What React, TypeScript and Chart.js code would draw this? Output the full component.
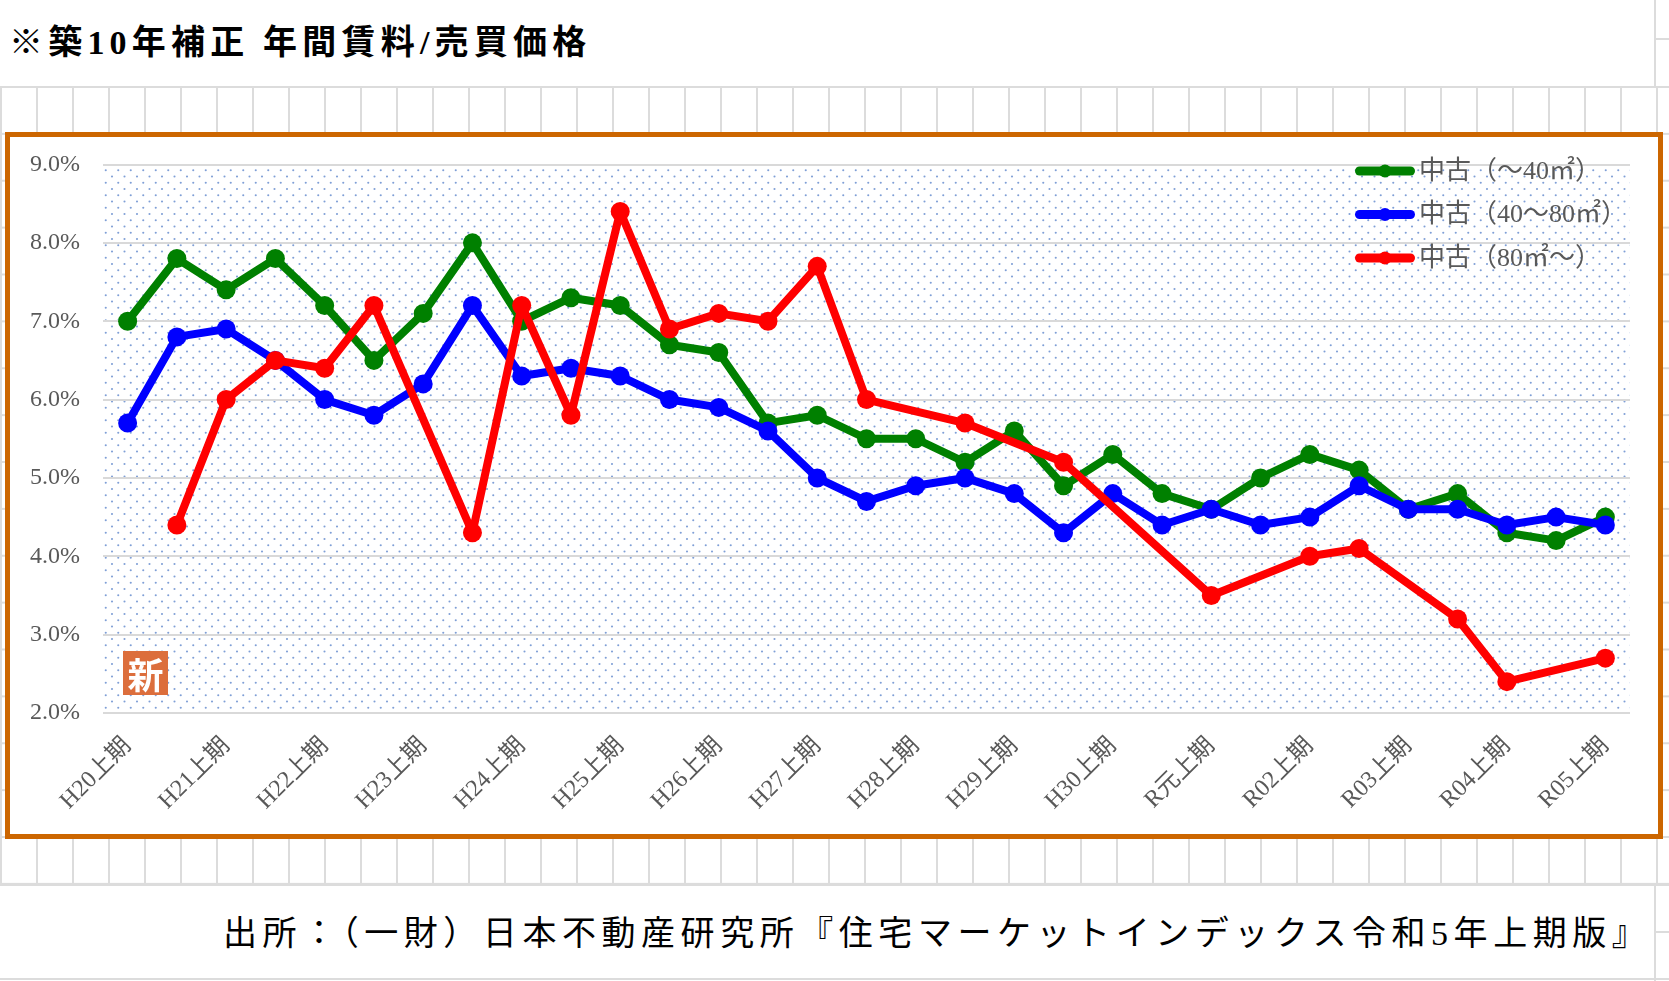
import React, { useEffect, useRef } from "react";
import { Chart, registerables } from "chart.js";

Chart.register(...registerables);

const PERIODS = [
  "H20上期", "H20下期", "H21上期", "H21下期", "H22上期", "H22下期", "H23上期", "H23下期",
  "H24上期", "H24下期", "H25上期", "H25下期", "H26上期", "H26下期", "H27上期", "H27下期",
  "H28上期", "H28下期", "H29上期", "H29下期", "H30上期", "H30下期", "R元上期", "R元下期",
  "R02上期", "R02下期", "R03上期", "R03下期", "R04上期", "R04下期", "R05上期",
];

const SERIES_NAMES = ["中古（～40㎡）", "中古（40～80㎡）", "中古（80㎡～）"];

const SMALL = [7.0, 7.8, 7.4, 7.8, 7.2, 6.5, 7.1, 8.0, 7.0, 7.3, 7.2, 6.7, 6.6, 5.7, 5.8, 5.5,
  5.5, 5.2, 5.6, 4.9, 5.3, 4.8, 4.6, 5.0, 5.3, 5.1, 4.6, 4.8, 4.3, 4.2, 4.5];
const MEDIUM = [5.7, 6.8, 6.9, 6.5, 6.0, 5.8, 6.2, 7.2, 6.3, 6.4, 6.3, 6.0, 5.9, 5.6, 5.0, 4.7,
  4.9, 5.0, 4.8, 4.3, 4.8, 4.4, 4.6, 4.4, 4.5, 4.9, 4.6, 4.6, 4.4, 4.5, 4.4];
const LARGE = [null, 4.4, 6.0, 6.5, 6.4, 7.2, null, 4.3, 7.2, 5.8, 8.4, 6.9, 7.1, 7.0, 7.7, 6.0,
  null, 5.7, null, 5.2, null, null, 3.5, null, 4.0, 4.1, null, 3.2, 2.4, null, 2.7];

const Y_MIN = 2;
const Y_MAX = 9;
const Y_STEP = 1;

const COLORS = ["#008000", "#0000ff", "#ff0000"];
const TEXT_GRAY = "#595959";
const CHART_FONT = "'Liberation Serif', 'Noto Sans CJK JP', serif";

function makeDotPattern(ctx: CanvasRenderingContext2D) {
  const c = document.createElement("canvas");
  c.width = 25;
  c.height = 25;
  const g = c.getContext("2d")!;
  g.fillStyle = "#ffffff";
  g.fillRect(0, 0, 25, 25);
  g.fillStyle = "#7f9fd6";
  for (let r = 0; r < 4; r++) {
    const y = r * 6.25 + 2;
    const off = r % 2 === 0 ? 2 : 8.25;
    for (const x of [off, off + 12.5]) {
      g.beginPath();
      g.arc(x, y, 1.05, 0, Math.PI * 2);
      g.fill();
    }
  }
  return ctx.createPattern(c, "repeat");
}

const backgroundPlugin = {
  id: "dotBackground",
  beforeDraw(chart: any) {
    const { ctx, chartArea, width, height } = chart;
    ctx.save();
    ctx.fillStyle = "#ffffff";
    ctx.fillRect(0, 0, width, height);
    const p = makeDotPattern(ctx);
    if (p) {
      ctx.fillStyle = p;
      ctx.fillRect(chartArea.left, chartArea.top, chartArea.right - chartArea.left, chartArea.bottom - chartArea.top);
    }
    ctx.restore();
  },
};

const insideLegendPlugin = {
  id: "insideLegend",
  afterDraw(chart: any) {
    const { ctx, chartArea } = chart;
    const x0 = chartArea.right - 275;
    const y0 = chartArea.top + 6.5;
    const rowH = 43.5;
    chart.data.datasets.forEach((ds: any, i: number) => {
      const y = y0 + i * rowH;
      ctx.save();
      ctx.strokeStyle = ds.borderColor;
      ctx.lineWidth = 9;
      ctx.lineCap = "round";
      ctx.beginPath();
      ctx.moveTo(x0 + 4.5, y);
      ctx.lineTo(x0 + 55.5, y);
      ctx.stroke();
      ctx.fillStyle = ds.borderColor;
      ctx.beginPath();
      ctx.arc(x0 + 30, y, 6.5, 0, Math.PI * 2);
      ctx.fill();
      ctx.fillStyle = TEXT_GRAY;
      ctx.font = `26px ${CHART_FONT}`;
      ctx.textBaseline = "middle";
      ctx.textAlign = "left";
      ctx.fillText(ds.label, x0 + 64, y + 1);
      ctx.restore();
    });
  },
};

function RentChart() {
  const ref = useRef<HTMLCanvasElement | null>(null);
  useEffect(() => {
    if (!ref.current) return;
    const mk = (label: string, data: (number | null)[], color: string, order: number) => ({
      label,
      data,
      borderColor: color,
      backgroundColor: color,
      borderWidth: 8,
      pointRadius: 9.5,
      pointBorderWidth: 0,
      pointBackgroundColor: color,
      pointHoverRadius: 9.5,
      borderJoinStyle: "round" as const,
      borderCapStyle: "round" as const,
      spanGaps: true,
      tension: 0,
      order,
    });
    const chart = new Chart(ref.current, {
      type: "line",
      data: {
        labels: PERIODS,
        datasets: [
          mk(SERIES_NAMES[0], SMALL, COLORS[0], 3),
          mk(SERIES_NAMES[1], MEDIUM, COLORS[1], 2),
          mk(SERIES_NAMES[2], LARGE, COLORS[2], 1),
        ],
      },
      options: {
        animation: false,
        responsive: false,
        devicePixelRatio: 1,
        layout: { autoPadding: false, padding: { top: 27.5, right: 28, left: 0, bottom: 0 } },
        plugins: { legend: { display: false }, tooltip: { enabled: false } },
        scales: {
          x: {
            offset: true,
            grid: { display: false, drawTicks: false },
            border: { display: false },
            ticks: {
              autoSkip: false,
              minRotation: 45,
              maxRotation: 45,
              padding: 19,
              color: TEXT_GRAY,
              font: { family: CHART_FONT, size: 24 },
              callback: (_v: any, i: number) => (i % 2 === 0 ? PERIODS[i] : ""),
            },
            afterFit: (s: any) => {
              s.height = 121;
              s.paddingLeft = 0;
              s.paddingRight = 0;
            },
          },
          y: {
            min: Y_MIN,
            max: Y_MAX,
            grid: { color: "#d9d9d9", lineWidth: 2, drawTicks: false },
            border: { display: false },
            ticks: {
              stepSize: Y_STEP,
              padding: 23,
              color: TEXT_GRAY,
              font: { family: CHART_FONT, size: 24 },
              callback: (v: any) => Number(v).toFixed(1) + "%",
            },
            afterFit: (s: any) => {
              s.width = 93;
              s.paddingTop = 0;
              s.paddingBottom = 0;
            },
          },
        },
      },
      plugins: [backgroundPlugin, insideLegendPlugin],
    });
    return () => chart.destroy();
  }, []);
  return <canvas ref={ref} width={1648} height={697} style={{ display: "block", width: 1648, height: 697 }} />;
}

export default function App() {
  const gridColor = "#dcdcdc";
  return (
    <div style={{ position: "fixed", left: 0, top: 0, width: 1669, height: 981, background: "#fff", overflow: "hidden" }}>
      {/* spreadsheet cells */}
      <div
        style={{
          position: "absolute",
          left: 0,
          top: 86,
          width: 1669,
          height: 798,
          backgroundImage: `linear-gradient(to right, ${gridColor} 2px, transparent 2px), linear-gradient(to bottom, ${gridColor} 2px, transparent 2px)`,
          backgroundSize: "36px 46.88px",
          backgroundPosition: "0px 0px",
        }}
      />
      <div style={{ position: "absolute", left: 0, top: 884, width: 1669, height: 2, background: gridColor }} />
      <div style={{ position: "absolute", left: 0, top: 978, width: 1669, height: 2, background: gridColor }} />
      <div style={{ position: "absolute", left: 1654, top: 0, width: 2, height: 86, background: gridColor }} />
      <div style={{ position: "absolute", left: 1654, top: 884, width: 2, height: 97, background: gridColor }} />
      <div style={{ position: "absolute", left: 1654, top: 38, width: 15, height: 2, background: gridColor }} />
      <div style={{ position: "absolute", left: 1654, top: 931, width: 15, height: 2, background: gridColor }} />

      {/* title */}
      <div
        style={{
          position: "absolute",
          left: 9,
          top: 25,
          fontFamily: CHART_FONT,
          fontSize: 34,
          lineHeight: "36px",
          fontWeight: 700,
          letterSpacing: "5.2px",
          color: "#000",
          whiteSpace: "nowrap",
        }}
      >
        ※築10年補正 年間賃料/売買価格
      </div>

      {/* chart frame */}
      <div
        style={{
          position: "absolute",
          left: 5,
          top: 132,
          width: 1648,
          height: 697,
          border: "5px solid #cc6600",
          background: "#fff",
        }}
      >
        <RentChart />
        <div
          style={{
            position: "absolute",
            left: 113,
            top: 514,
            width: 45,
            height: 44,
            background: "#dc6e3c",
            color: "#fff",
            fontFamily: "'Noto Sans CJK JP', sans-serif",
            fontWeight: 700,
            fontSize: 36,
            lineHeight: "44px",
            textAlign: "center",
          }}
        >
          新
        </div>
      </div>

      {/* source */}
      <div
        style={{
          position: "absolute",
          left: 223,
          top: 915,
          fontFamily: CHART_FONT,
          fontSize: 34,
          lineHeight: "38px",
          letterSpacing: "5.55px",
          color: "#000",
          whiteSpace: "nowrap",
        }}
      >
        出所：（一財）日本不動産研究所『住宅マーケットインデックス令和5年上期版』
      </div>
    </div>
  );
}
